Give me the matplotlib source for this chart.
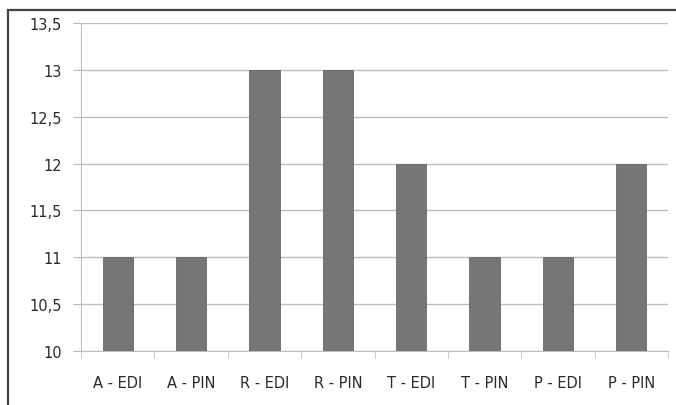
import matplotlib
matplotlib.use("Agg")
import matplotlib.pyplot as plt
from matplotlib.patches import Rectangle
from matplotlib.ticker import FixedLocator, FuncFormatter

categories = ["A - EDI", "A - PIN", "R - EDI", "R - PIN",
              "T - EDI", "T - PIN", "P - EDI", "P - PIN"]
values = [11, 11, 13, 13, 12, 11, 11, 12]
y_ticks = [10, 10.5, 11, 11.5, 12, 12.5, 13, 13.5]

plt.rcParams["font.family"] = ["Liberation Sans Narrow", "DejaVu Sans"]

fig = plt.figure(figsize=(6.76, 4.06), dpi=100)
ax = fig.add_axes([0.12, 0.133, 0.868, 0.808])

x = list(range(len(categories)))
ax.bar(x, [v - 10 for v in values], bottom=10, width=0.41,
       color="#767676", edgecolor="#666666", linewidth=0.6, zorder=3)

ax.set_ylim(10, 13.5)
ax.set_xlim(-0.5, len(categories) - 0.5)
ax.yaxis.set_major_locator(FixedLocator(y_ticks))
ax.yaxis.set_major_formatter(FuncFormatter(
    lambda v, _: (f"{v:g}").replace(".", ",")))
ax.grid(axis="y", color="#bdbdbd", linewidth=1.0, zorder=0)

ax.set_xticks(x)
ax.set_xticklabels(categories)
ax.set_xticks([i - 0.5 for i in range(len(categories) + 1)], minor=True)
ax.tick_params(axis="x", which="major", length=0, pad=17,
               labelsize=10.5, labelcolor="#2a2a2a")
ax.tick_params(axis="x", which="minor", length=5, color="#bdbdbd")
ax.tick_params(axis="y", length=6, color="#bdbdbd", labelsize=10.5,
               labelcolor="#2a2a2a", pad=8)

for side in ["top", "right"]:
    ax.spines[side].set_visible(False)
for side in ["left", "bottom"]:
    ax.spines[side].set_color("#bdbdbd")

# outer chart frame (cropped at right and bottom)
fig.patches.append(Rectangle((8 / 676, -0.1), 1.2, 1.1 - 11 / 406,
                             transform=fig.transFigure, fill=False,
                             edgecolor="#444444", linewidth=1.6))

fig.savefig("out.png", dpi=100)
